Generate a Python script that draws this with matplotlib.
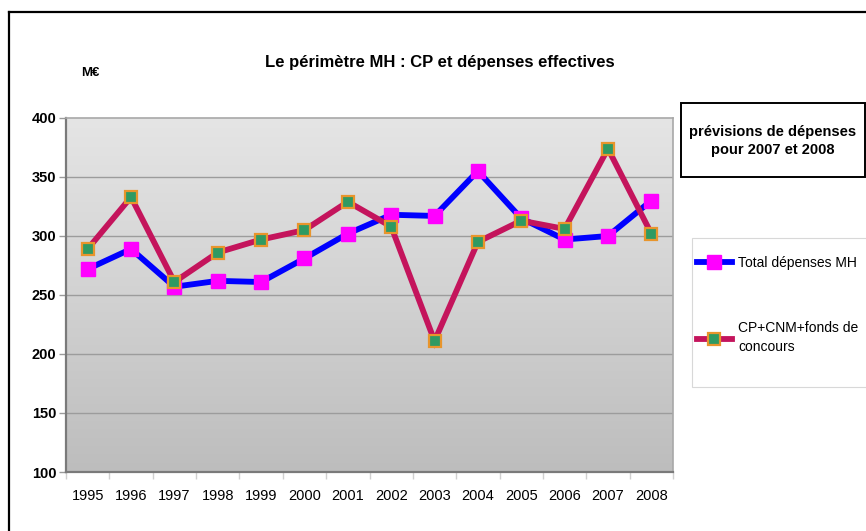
import matplotlib
matplotlib.use("Agg")
import matplotlib.pyplot as plt
import numpy as np
from matplotlib.colors import LinearSegmentedColormap
from matplotlib.lines import Line2D
from matplotlib.patches import Rectangle

plt.rcParams['font.family'] = ['Liberation Sans', 'DejaVu Sans']

years = ['1995', '1996', '1997', '1998', '1999', '2000', '2001',
         '2002', '2003', '2004', '2005', '2006', '2007', '2008']
total_depenses = [272, 289, 257, 262, 261, 281, 302, 318, 317, 355, 315, 297, 300, 330]
cp_cnm = [289, 333, 261, 286, 297, 305, 329, 308, 211, 295, 313, 306, 374, 302]
yticks = [100, 150, 200, 250, 300, 350, 400]

W, H = 866, 531
fig = plt.figure(figsize=(W / 100, H / 100), dpi=100)
fig.patch.set_facecolor('white')

def fx(px):
    return px / W

def fy(py):
    return 1 - py / H

ax = fig.add_axes([fx(66), fy(472), fx(673) - fx(66), fy(118) - fy(472)])
x = np.arange(len(years))
ax.set_xlim(-0.5, len(years) - 0.5)
ax.set_ylim(100, 400)

# gradient background
cmap = LinearSegmentedColormap.from_list('bg', ['#bdbdbd', '#d2d2d2', '#e5e5e5'])
grad = np.linspace(0, 1, 256).reshape(-1, 1)
ax.imshow(grad, extent=(-0.5, len(years) - 0.5, 100, 400), origin='lower',
          aspect='auto', cmap=cmap, zorder=0)

for yv in yticks[1:-1]:
    ax.axhline(yv, color='#9c9c9c', lw=1.0, zorder=1)

ax.plot(x, total_depenses, color='#0000ff', lw=4.2, marker='s', markersize=10,
        markerfacecolor='#ff00ff', markeredgecolor='#ff00ff', zorder=3,
        label='Total dépenses MH', solid_joinstyle='miter')
ax.plot(x, cp_cnm, color='#c4145c', lw=4.2, marker='s', markersize=9,
        markerfacecolor='#2f9a62', markeredgecolor='#e8952c', markeredgewidth=1.6,
        zorder=4, label='CP+CNM+fonds de\nconcours', solid_joinstyle='miter')

for s in ['top', 'right']:
    ax.spines[s].set_color('#a8a8a8')
    ax.spines[s].set_linewidth(1.2)
for s in ['left', 'bottom']:
    ax.spines[s].set_color('#7a7a7a')
    ax.spines[s].set_linewidth(1.6)

ax.set_yticks(yticks)
ax.set_yticklabels([str(v) for v in yticks], fontsize=10.5, fontweight='bold')
ax.tick_params(axis='y', length=5, width=1, color='#9a9a9a', pad=2)
ax.set_xticks(x)
ax.set_xticklabels(years, fontsize=10.5)
ax.tick_params(axis='x', which='major', length=0, pad=12)
ax.set_xticks(np.arange(-0.5, len(years), 1.0), minor=True)
ax.tick_params(axis='x', which='minor', length=5, width=1, color='#d0d0d0')

fig.text(fx(440), fy(62), 'Le périmètre MH : CP et dépenses effectives',
         ha='center', va='center', fontsize=12, fontweight='bold')
fig.text(fx(90), fy(73), 'M€', ha='center', va='center', fontsize=9.5, fontweight='bold')

# outer border (top and left visible)
fig.add_artist(Line2D([fx(9), fx(W + 5)], [fy(12), fy(12)], color='black', lw=1.6,
                      transform=fig.transFigure))
fig.add_artist(Line2D([fx(9), fx(9)], [fy(12), fy(H + 5)], color='black', lw=1.6,
                      transform=fig.transFigure))

# annotation box
fig.add_artist(Rectangle((fx(681), fy(177)), fx(865) - fx(681), fy(103) - fy(177),
                         transform=fig.transFigure, facecolor='white',
                         edgecolor='black', lw=1.4))
fig.text(fx(773), fy(141), 'prévisions de dépenses\npour 2007 et 2008', ha='center',
         va='center', fontsize=10.5, fontweight='bold', linespacing=1.45)

# legend frame (drawn beneath the legend)
fig.add_artist(Rectangle((fx(692), fy(387)), fx(875) - fx(692), fy(238) - fy(387),
                         transform=fig.transFigure, facecolor='white',
                         edgecolor='#d8d8d8', lw=0.8, zorder=-1))
leg = ax.legend(loc='upper left', bbox_to_anchor=(fx(697), fy(256)),
                bbox_transform=fig.transFigure, fontsize=10, frameon=False,
                handlelength=2.5, labelspacing=3.7, borderpad=0,
                handletextpad=0.45, borderaxespad=0)
for t in leg.get_texts():
    t.set_linespacing(1.45)

fig.savefig('out.png', dpi=100)
